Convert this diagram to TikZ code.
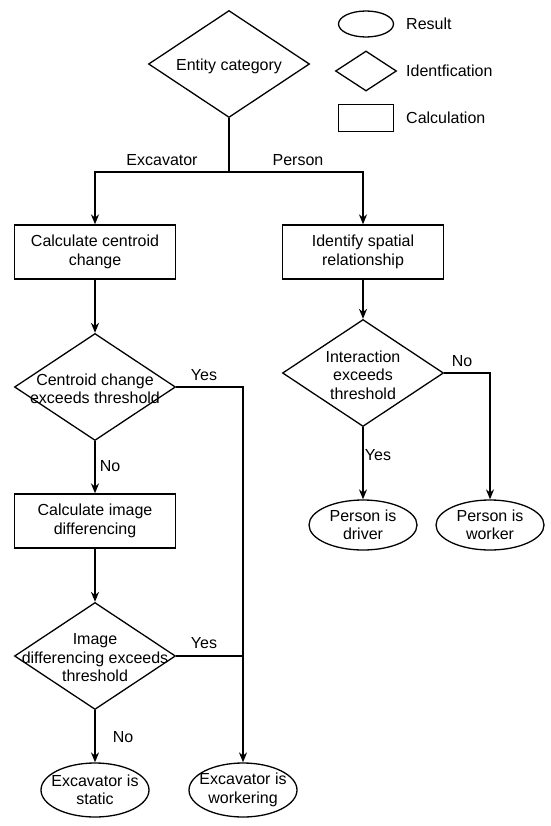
\documentclass[tikz,border=0pt]{standalone}
\usepackage{fontspec}
\setmainfont{Liberation Sans}
\usetikzlibrary{shapes.geometric,arrows.meta}
\begin{document}
\begin{tikzpicture}[x=1pt,y=-1pt,
  every node/.style={font=\fontsize{16}{18.5}\selectfont},
  ln/.style={line width=1.3pt},
  arr/.style={ln,-{Stealth[length=10pt,width=8pt]}},
  calc/.style={draw,ln,rectangle,minimum width=161pt,minimum height=54pt,align=center,inner sep=0pt},
  dia/.style={draw,ln,diamond,minimum width=161pt,minimum height=107pt,inner sep=0pt},
  res/.style={draw,ln,ellipse,minimum width=108pt,minimum height=54pt,inner sep=0pt},
  txt/.style={align=center,inner sep=0pt},
  lbl/.style={inner sep=0pt}]
\useasboundingbox (0,0) rectangle (550,826);
% legend
\node[res,minimum width=55pt,minimum height=26pt] (lres) at (366,24) {};
\node[lbl,anchor=west] (lrest) at (406,24) {Result};
\node[dia,minimum width=61pt,minimum height=40pt] (ldia) at (366,71) {};
\node[lbl,anchor=west] (ldiat) at (406,71) {Identfication};
\node[calc,minimum width=55pt,minimum height=27pt] (lcal) at (366,118) {};
\node[lbl,anchor=west] (lcalt) at (406,118) {Calculation};
% main
\node[dia] (ent) at (229,64) {};
\node[txt] (entt) at (229,66) {Entity category};
\coordinate (j0) at (229,172);
\node[calc] (b1) at (95,252) {Calculate centroid\\change};
\node[calc] (b2) at (363,252) {Identify spatial\\relationship};
\node[dia] (d1) at (95,387) {};
\node[txt] (d1t) at (95,389) {Centroid change\\exceeds threshold};
\node[calc] (b3) at (95,521) {Calculate image\\differencing};
\node[dia] (d2) at (95,656) {};
\node[txt] (d2t) at (95,658) {Image\\differencing exceeds\\threshold};
\node[res] (e1) at (95,790) {};
\node[txt] (e1t) at (95,790) {Excavator is\\static};
\node[res] (e2) at (243,790) {};
\node[txt] (e2t) at (243,790) {Excavator is\\workering};
\node[dia] (d3) at (363,373) {};
\node[txt] (d3t) at (363,375) {Interaction\\exceeds\\threshold};
\node[res,minimum height=50pt] (e3) at (363,525) {};
\node[txt] (e3t) at (363,525) {Person is\\driver};
\node[res,minimum height=50pt] (e4) at (490,525) {};
\node[txt] (e4t) at (490,525) {Person is\\worker};
% connectors
\draw[ln] (ent.south) -- (j0);
\draw[arr] (j0) -| (b1.north);
\draw[arr] (j0) -| (b2.north);
\draw[arr] (b1.south) -- (d1.north);
\draw[arr] (d1.east) -| (e2.north);
\draw[arr] (d1.south) -- (b3.north);
\draw[arr] (b3.south) -- (d2.north);
\draw[ln] (d2.east) -- (e2.north |- d2.east);
\draw[arr] (d2.south) -- (e1.north);
\draw[arr] (b2.south) -- (d3.north);
\draw[arr] (d3.south) -- (e3.north);
\draw[arr] (d3.east) -| (e4.north);
% labels
\node[lbl] (lex) at (162,160) {Excavator};
\node[lbl] (lpe) at (298,160) {Person};
\node[lbl] (ly1) at (204,375) {Yes};
\node[lbl] (ln1) at (110,466) {No};
\node[lbl] (ly2) at (204,643) {Yes};
\node[lbl] (ln2) at (123,737) {No};
\node[lbl] (ly3) at (378,455) {Yes};
\node[lbl] (ln3) at (462,361) {No};
\end{tikzpicture}
\end{document}
